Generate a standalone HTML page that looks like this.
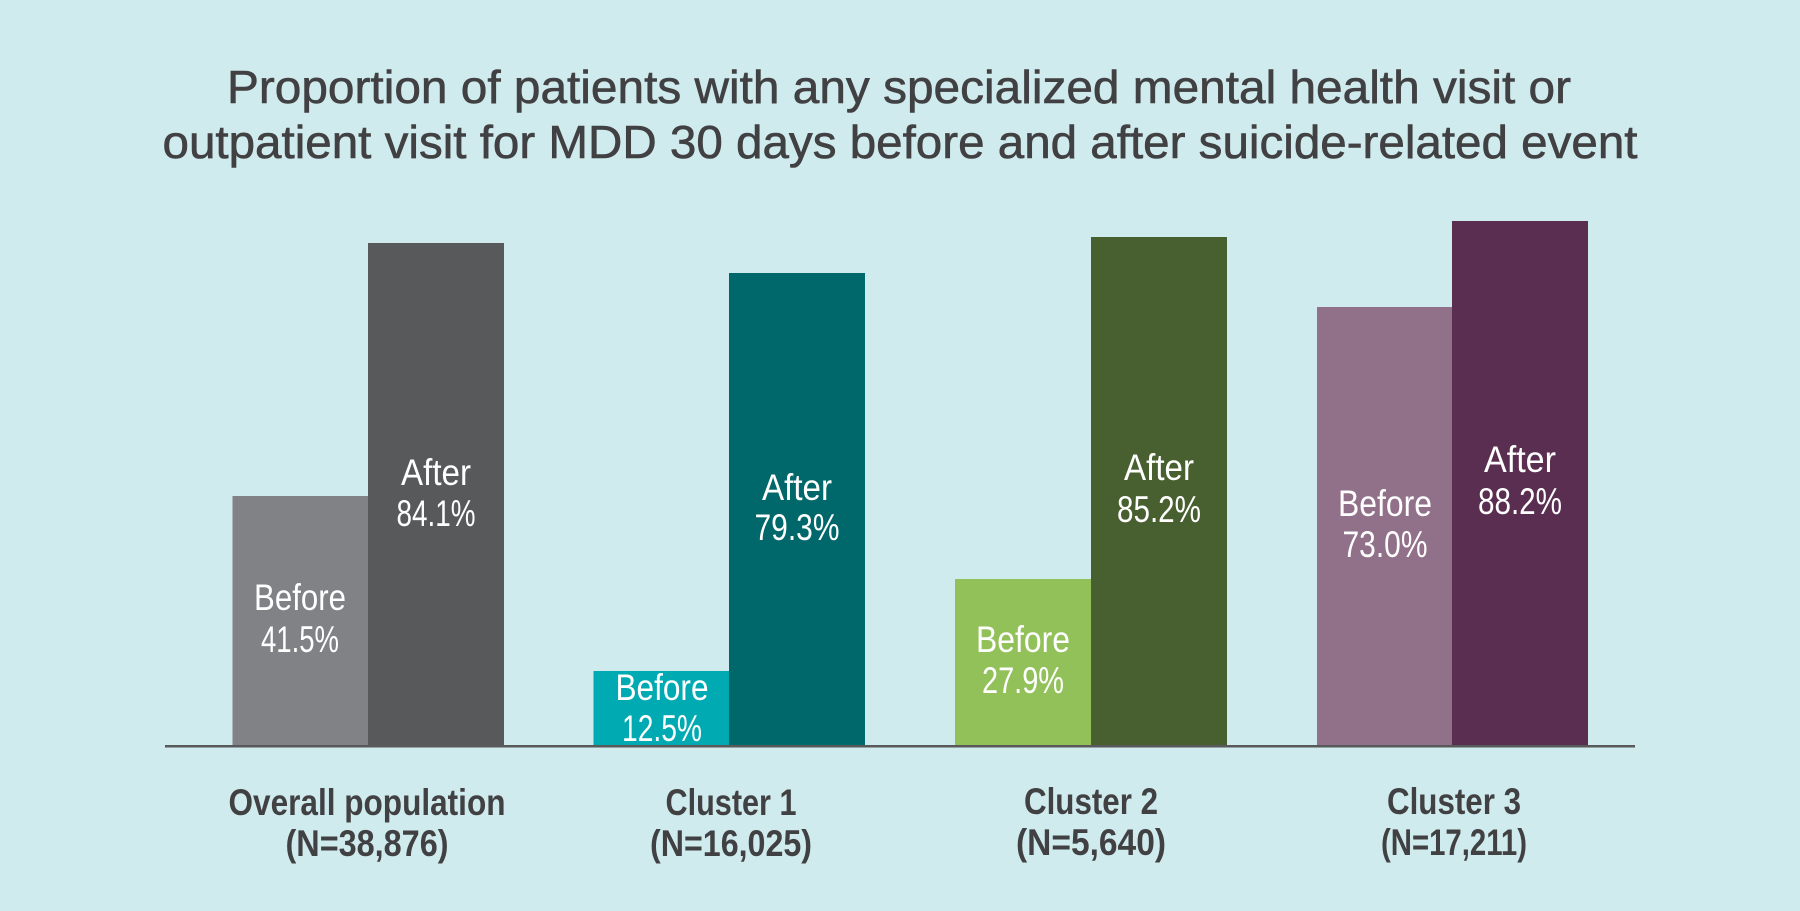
<!DOCTYPE html>
<html>
<head>
<meta charset="utf-8">
<style>
  html, body { margin: 0; padding: 0; background: #cfebee; }
  svg { display: block; }
  text { font-family: "Liberation Sans", "DejaVu Sans", sans-serif; }
  .t { fill: #414042; font-size: 46px; stroke: #414042; stroke-width: 0.6px; }
  .b { fill: #ffffff; font-size: 37px; text-anchor: middle; }
  .g { fill: #414042; font-size: 37px; font-weight: bold; text-anchor: middle; }
</style>
</head>
<body>
<svg width="1800" height="911" viewBox="0 0 1800 911" xmlns="http://www.w3.org/2000/svg">
  <rect x="0" y="0" width="1800" height="911" fill="#cfebee"/>

  <!-- Title -->
  <text class="t" x="227" y="103" textLength="1344" lengthAdjust="spacingAndGlyphs">Proportion of patients with any specialized mental health visit or</text>
  <text class="t" x="162.5" y="158" textLength="1475" lengthAdjust="spacingAndGlyphs">outpatient visit for MDD 30 days before and after suicide-related event</text>

  <!-- Overall population -->
  <rect x="232.5" y="496" width="135.5" height="250" fill="#808285"/>
  <rect x="368" y="243" width="136" height="503" fill="#58595b"/>
  <!-- Cluster 1 -->
  <rect x="593.5" y="671" width="135.5" height="75" fill="#00aab2"/>
  <rect x="729" y="273" width="136" height="473" fill="#00676a"/>
  <!-- Cluster 2 -->
  <rect x="955" y="579" width="136" height="167" fill="#92c15a"/>
  <rect x="1091" y="237" width="136" height="509" fill="#48602f"/>
  <!-- Cluster 3 -->
  <rect x="1317" y="307" width="135" height="439" fill="#917089"/>
  <rect x="1452" y="221" width="136" height="525" fill="#5a2e50"/>

  <!-- Axis line -->
  <rect x="165" y="745" width="1470" height="2.5" fill="#58595b"/>

  <!-- Bar labels -->
  <text class="b" x="300" y="610" textLength="92" lengthAdjust="spacingAndGlyphs">Before</text>
  <text class="b" x="300" y="652" textLength="78" lengthAdjust="spacingAndGlyphs">41.5%</text>
  <text class="b" x="436" y="485" textLength="70" lengthAdjust="spacingAndGlyphs">After</text>
  <text class="b" x="436" y="526" textLength="79" lengthAdjust="spacingAndGlyphs">84.1%</text>

  <text class="b" x="662" y="700" textLength="93" lengthAdjust="spacingAndGlyphs">Before</text>
  <text class="b" x="662" y="741" textLength="80" lengthAdjust="spacingAndGlyphs">12.5%</text>
  <text class="b" x="797" y="500" textLength="70" lengthAdjust="spacingAndGlyphs">After</text>
  <text class="b" x="797" y="540" textLength="85" lengthAdjust="spacingAndGlyphs">79.3%</text>

  <text class="b" x="1023" y="652" textLength="94" lengthAdjust="spacingAndGlyphs">Before</text>
  <text class="b" x="1023" y="693" textLength="82" lengthAdjust="spacingAndGlyphs">27.9%</text>
  <text class="b" x="1159" y="480" textLength="70" lengthAdjust="spacingAndGlyphs">After</text>
  <text class="b" x="1159" y="522" textLength="84" lengthAdjust="spacingAndGlyphs">85.2%</text>

  <text class="b" x="1385" y="516" textLength="94" lengthAdjust="spacingAndGlyphs">Before</text>
  <text class="b" x="1385" y="557" textLength="85" lengthAdjust="spacingAndGlyphs">73.0%</text>
  <text class="b" x="1520" y="472" textLength="72" lengthAdjust="spacingAndGlyphs">After</text>
  <text class="b" x="1520" y="514" textLength="84" lengthAdjust="spacingAndGlyphs">88.2%</text>

  <!-- Group labels -->
  <text class="g" x="367" y="815" textLength="277" lengthAdjust="spacingAndGlyphs">Overall population</text>
  <text class="g" x="367" y="856" textLength="163" lengthAdjust="spacingAndGlyphs">(N=38,876)</text>

  <text class="g" x="731" y="815" textLength="131" lengthAdjust="spacingAndGlyphs">Cluster 1</text>
  <text class="g" x="731" y="856" textLength="162" lengthAdjust="spacingAndGlyphs">(N=16,025)</text>

  <text class="g" x="1091" y="814" textLength="134" lengthAdjust="spacingAndGlyphs">Cluster 2</text>
  <text class="g" x="1091" y="855" textLength="150" lengthAdjust="spacingAndGlyphs">(N=5,640)</text>

  <text class="g" x="1454" y="814" textLength="134" lengthAdjust="spacingAndGlyphs">Cluster 3</text>
  <text class="g" x="1454" y="855" textLength="146" lengthAdjust="spacingAndGlyphs">(N=17,211)</text>
</svg>
</body>
</html>
